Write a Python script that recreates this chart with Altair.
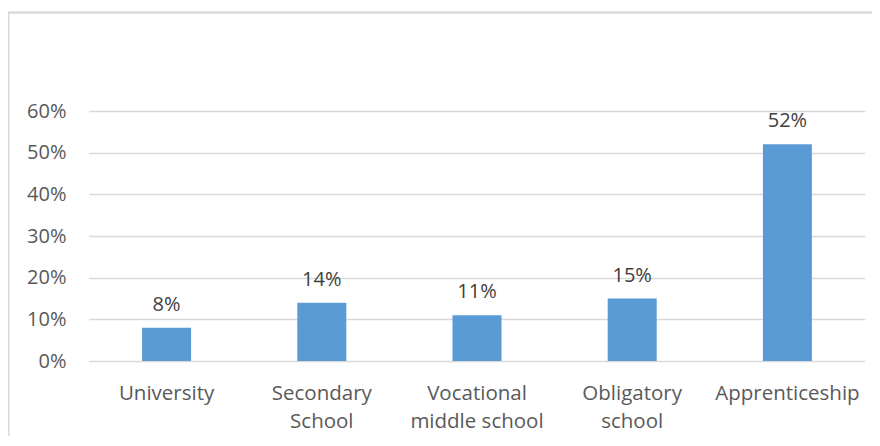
import altair as alt
import pandas as pd

categories = ["University", "Secondary School", "Vocational middle school",
              "Obligatory school", "Apprenticeship"]
shares = [0.08, 0.14, 0.11, 0.15, 0.52]

df = pd.DataFrame({"category": categories, "share": shares})

FONT = "Open Sans"
GRID = "#d9d9d9"

x_enc = alt.X(
    "category:N",
    sort=categories,
    title=None,
    scale=alt.Scale(paddingInner=0.684, paddingOuter=0.342),
    axis=alt.Axis(
        labelAngle=0,
        labelFont=FONT,
        labelFontSize=20.5,
        labelColor="#595959",
        labelLineHeight=28,
        labelPadding=22,
        labelBaseline="top",
        labelLimit=300,
        ticks=False,
        domain=False,
        grid=False,
        labelExpr="indexof(datum.label,' ') > 0 ? [substring(datum.label,0,indexof(datum.label,' ')), substring(datum.label,indexof(datum.label,' ')+1)] : datum.label",
    ),
)

y_enc = alt.Y(
    "share:Q",
    title=None,
    scale=alt.Scale(domain=[0, 0.6], nice=False),
    axis=alt.Axis(
        values=[0, 0.1, 0.2, 0.3, 0.4, 0.5, 0.6],
        format=".0%",
        labelFont=FONT,
        labelFontSize=20,
        labelColor="#595959",
        labelPadding=23,
        ticks=False,
        domain=False,
        grid=True,
        gridColor=GRID,
        gridWidth=1.3,
    ),
)

frame = alt.Chart(df).mark_rect(
    fill="white", fillOpacity=0, stroke=GRID, strokeWidth=1.3
).encode(
    x=alt.value(-80.5), x2=alt.value(800),
    y=alt.value(-98.5), y2=alt.value(345),
)

bars = alt.Chart(df).mark_bar(color="#5b9bd5", size=49).encode(x=x_enc, y=y_enc)

labels = alt.Chart(df).mark_text(
    font=FONT, fontSize=20, color="#404040", baseline="alphabetic", dy=-17
).encode(
    x=alt.X("category:N", sort=categories),
    y="share:Q",
    text=alt.Text("share:Q", format=".0%"),
)

chart = alt.layer(frame, bars, labels).properties(
    width=776,
    height=250,
    padding={"left": 81, "top": 103, "right": 7, "bottom": 75},
    autosize=alt.AutoSizeParams(type="none"),
    background="white",
).configure_view(strokeWidth=0, stroke="transparent")

chart.save("out.html", embed_options={"renderer": "svg", "actions": False})
